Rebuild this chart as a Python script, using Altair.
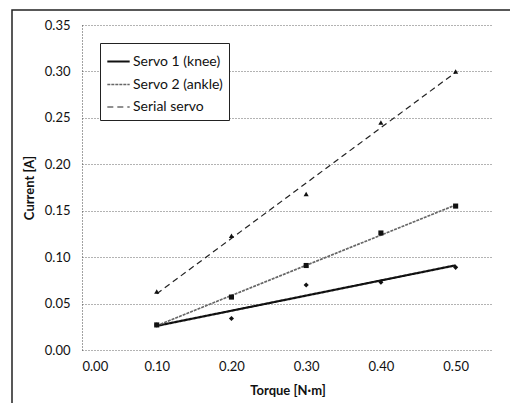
import altair as alt
import pandas as pd

torque = [0.1, 0.2, 0.3, 0.4, 0.5]
knee = [0.027, 0.034, 0.070, 0.073, 0.089]
ankle = [0.027, 0.057, 0.091, 0.126, 0.155]
serial = [0.063, 0.123, 0.168, 0.245, 0.300]
series_names = ["Servo 1 (knee)", "Servo 2 (ankle)", "Serial servo"]
marker_shapes = ["diamond", "square", "triangle-up"]
x_ticks = [0.0, 0.1, 0.2, 0.3, 0.4, 0.5]
y_ticks = [0.0, 0.05, 0.10, 0.15, 0.20, 0.25, 0.30, 0.35]

rows = []
for name, vals in zip(series_names, [knee, ankle, serial]):
    for t, v in zip(torque, vals):
        rows.append({"series": name, "torque": t, "current": v})
df = pd.DataFrame(rows)

FONT = "Lato"
W, H = 411, 325

xenc = alt.X("torque:Q", scale=alt.Scale(domain=[0, 0.55], nice=False),
             axis=alt.Axis(values=x_ticks, format=".2f", title="Torque [N\u00b7m]",
                           grid=False, ticks=False, domain=False, labelPadding=10,
                           titlePadding=11))
yenc = alt.Y("current:Q", scale=alt.Scale(domain=[0, 0.35], nice=False),
             axis=alt.Axis(values=y_ticks, format=".2f", title="Current [A]",
                           grid=True, gridDash=[1, 2], gridColor="#666",
                           ticks=False, domain=True, domainDash=[1, 2], domainColor="#444",
                           labelPadding=12, titlePadding=8))

leg = alt.Legend(title=None, orient="none", legendX=18, legendY=18, symbolType="stroke")

lines = alt.Chart(df).transform_regression(
    "torque", "current", groupby=["series"]
).mark_line().encode(
    x=xenc, y=yenc,
    color=alt.Color("series:N", scale=alt.Scale(domain=series_names, range=["#111", "#666", "#222"]),
                    legend=leg),
    strokeDash=alt.StrokeDash("series:N", scale=alt.Scale(domain=series_names, range=[[1, 0], [3, 1], [6, 4]]),
                              legend=leg),
    strokeWidth=alt.StrokeWidth("series:N", scale=alt.Scale(domain=series_names, range=[2.2, 1.2, 1.6]),
                                legend=leg),
)

point_layers = [
    alt.Chart(df).transform_filter(alt.datum.series == name).mark_point(
        filled=True, size=26, color="#111", opacity=1, shape=shp
    ).encode(x="torque:Q", y="current:Q")
    for name, shp in zip(series_names, marker_shapes)
]

frame = alt.Chart(pd.DataFrame({"a": [0]})).mark_rect(fill=None, stroke="#222", strokeWidth=1.5).encode(
    x=alt.value(-70), x2=alt.value(440), y=alt.value(-15), y2=alt.value(420)
)

chart = alt.layer(frame, lines, *point_layers).properties(
    width=W, height=H,
    autosize=alt.AutoSizeParams(type="none"),
    padding={"left": 82, "top": 25, "right": 17, "bottom": 53},
).configure_view(stroke=None).configure_axis(
    labelFont=FONT, labelFontSize=13, labelColor="#111",
    titleFont=FONT, titleFontSize=13, titleFontWeight="bold", titleColor="#111",
).configure_legend(
    labelFont=FONT, labelFontSize=14, labelColor="#111",
    strokeColor="#222", fillColor="white", padding=6,
    symbolType="stroke", symbolSize=500, rowPadding=3, labelOffset=2,
)

chart.save("out.html", embed_options={"renderer": "svg", "actions": False})
